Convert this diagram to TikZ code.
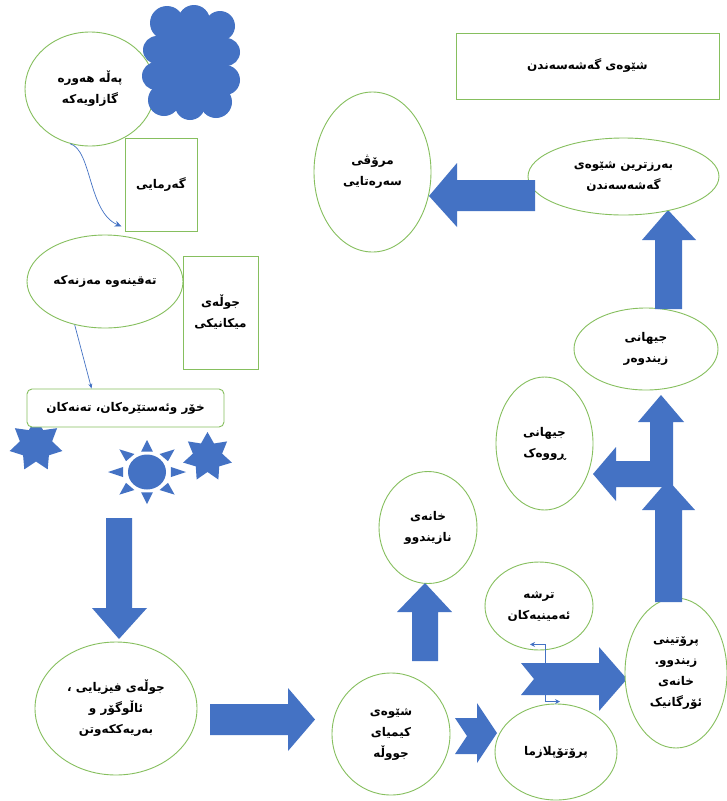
\documentclass[tikz,border=0pt]{standalone}
\usepackage{fontspec}
\usetikzlibrary{shapes.geometric,shapes.symbols,arrows.meta,calc}
\newfontfamily\ku[Script=Arabic]{DejaVu Sans}
\TeXXeTstate=1
\newcommand\ar[1]{\beginR #1\endR}
\definecolor{kblue}{HTML}{4472C4}
\definecolor{kdark}{HTML}{3A64B0}
\definecolor{kgreen}{HTML}{86BF5E}
\newcommand\kstar[4]{\fill[kblue] plot[samples at={0,...,13},variable=\k] ({#1+ifthenelse(mod(\k,2)==0,#3,#4)*cos(90+\k*360/14)},{#2-ifthenelse(mod(\k,2)==0,#3,#4)*sin(90+\k*360/14)});}
\tikzset{
  kfont/.style={font=\ku\bfseries\fontsize{12}{21}\selectfont},
  ell/.style={ellipse, draw=kgreen, line width=0.9pt, fill=white, inner sep=0pt, align=center, kfont},
  box/.style={rectangle, draw=kgreen, line width=0.9pt, fill=white, inner sep=0pt, align=center, kfont},
  blk/.style={fill=kblue},
  thinc/.style={draw=kblue, line width=0.7pt},
}
\begin{document}
\begin{tikzpicture}[x=1pt,y=-1pt]
\fill[white] (0,0) rectangle (726,801);
\useasboundingbox (0,0) rectangle (726,801);

% top-left group
\node[ell, minimum width=130, minimum height=114] (e1) at (90,89) {\ar{پەڵە هەورە}\\ \ar{گازاویەکە}};
% cloud
\begin{scope}[kblue]
\fill (158,26) rectangle (226,102);
\foreach \cx/\cy/\r in {167/23/17, 194/21/16, 220/26/15,
                        226/52/14, 225/80/15,
                        216/102/16, 190/105/15, 164/100/16,
                        156/76/14, 157/50/14}{
  \fill (\cx,\cy) circle [radius=\r];
}
\end{scope}
\node[box, minimum width=72, minimum height=93] (r1) at (161,184.5) {\ar{گەرمایی}};
\draw[thinc, -{Stealth[length=7pt,width=6pt]}] (e1.250) .. controls (92,150) and (88,212) .. ($(r1.south west)+(-3,-5)$);

\node[ell, minimum width=156, minimum height=93] (e2) at (105,281.5) {\ar{تەقینەوە مەزنەکە}};
\node[box, minimum width=75, minimum height=113] (r2) at (220.5,312.5) {\ar{جوڵەی}\\ \ar{میکانیکی}};

% stars and sun
\kstar{36}{445}{27}{16.5}
\kstar{207.5}{457}{25}{15}
\fill[kblue] (147,472) ellipse [x radius=19, y radius=17.5];
\foreach \a in {0,45,...,315}{
  \fill[kblue] ({147+39*cos(\a)},{472-32*sin(\a)}) -- ({147+24.5*cos(\a+14)},{472-21*sin(\a+14)}) -- ({147+24.5*cos(\a-14)},{472-21*sin(\a-14)}) -- cycle;
}
\node[box, rounded corners=5pt, minimum width=197, minimum height=38] (rr) at (125.5,408) {\ar{خۆر وئەستێرەکان، تەنەکان}};
\draw[thinc, -{Stealth[length=5pt,width=4pt]}] (e2.235) -- ($(rr.north west)+(65,0)$);

% big down arrow
\fill[blk] (106,518) -- (132,518) -- (132,608) -- (147,608) -- (119,639) -- (92,608) -- (106,608) -- cycle;

\node[ell, minimum width=162, minimum height=133] (e3) at (116,708.5) {\ar{جوڵەی فیزیایی ،}\\ \ar{ئاڵوگۆر و}\\ \ar{بەریەککەوتن}};
\fill[blk] (210,704) -- (288,704) -- (288,688) -- (315,719.5) -- (288,751) -- (288,735) -- (210,735) -- cycle;

\node[ell, minimum width=118, minimum height=122] (e4) at (391,734) {\ar{شێوەی}\\ \ar{کیمیای}\\ \ar{جووڵە}};
\fill[blk] (455,718) -- (477,718) -- (477,703) -- (497,733) -- (477,763) -- (477,754) -- (455,754) -- (467,736) -- cycle;

\node[ell, minimum width=122, minimum height=96] (e5) at (556,752) {\ar{پرۆتۆپلازما}};
\node[ell, minimum width=108, minimum height=88] (e6) at (539,606) {\ar{ترشە}\\ \ar{ئەمینیەکان}};
\node[ell, minimum width=98, minimum height=112] (e7) at (428,527.5) {\ar{خانەی}\\ \ar{نازیندوو}};
\fill[blk] (412,661) -- (412,612) -- (397,612) -- (425,583) -- (452,612) -- (438,612) -- (438,661) -- cycle;

% elbow connector
\coordinate (ka) at ($(e6.south)+(-9,-6)$);
\coordinate (kb) at ($(e5.north)+(4,-2)$);
\draw[thinc, {Stealth[length=5pt,width=5pt]}-{Stealth[length=5pt,width=5pt]}] (ka) -| ($(kb)+(-15,0)$) -- (kb);
\fill[blk] (521,663) -- (599,663) -- (599,647) -- (627,679) -- (599,711) -- (599,695) -- (521,695) -- (534,679) -- cycle;

\node[ell, minimum width=102, minimum height=150] (e8) at (676,673) {\ar{پرۆتینی}\\ \ar{زیندوو.}\\ \ar{خانەی}\\ \ar{ئۆرگانیک}};

% bent arrow
\fill[blk] (661,395) -- (684,422) -- (673,422) -- (673,487) -- (616,487) -- (616,501) -- (593,474) -- (616,447) -- (616,461) -- (650,461) -- (650,422) -- (638,422) -- cycle;
\fill[blk] (655,602) -- (655,510) -- (642,510) -- (668,480) -- (695,510) -- (682,510) -- (682,602) -- cycle;

\node[ell, minimum width=97, minimum height=133] (e9) at (544.5,443.5) {\ar{جیهانی}\\ \ar{ڕووەک}};
\node[ell, minimum width=144, minimum height=82] (e10) at (646,349) {\ar{جیهانی}\\ \ar{زیندوەر}};
\fill[blk] (655,309) -- (655,240) -- (642,240) -- (668,210) -- (696,240) -- (682,240) -- (682,309) -- cycle;

\node[ell, minimum width=191, minimum height=77] (e11) at (623.5,176.5) {\ar{بەرزترین شێوەی}\\ \ar{گەشەسەندن}};
\fill[blk] (535,180) -- (457,180) -- (457,163) -- (429,196) -- (457,227) -- (457,211) -- (535,211) -- cycle;
\node[ell, minimum width=117, minimum height=160] (e12) at (372.5,172) {\ar{مرۆڤی}\\ \ar{سەرەتایی}};

\node[box, minimum width=263, minimum height=66] (r3) at (587.5,66) {\ar{شێوەی گەشەسەندن}};
\end{tikzpicture}
\end{document}
